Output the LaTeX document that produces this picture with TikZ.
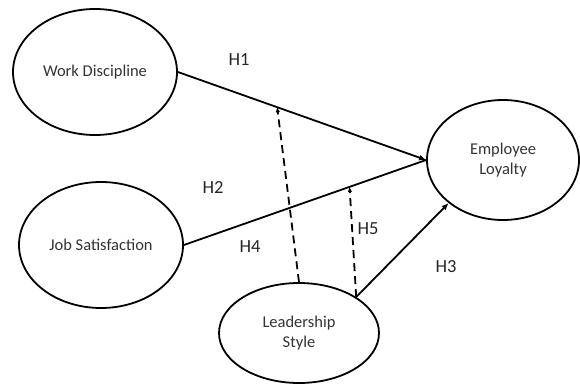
\documentclass[tikz,border=0pt]{standalone}
\usepackage{fontspec}
\setmainfont{Carlito}
\usetikzlibrary{arrows.meta}
\usetikzlibrary{shapes.geometric}
\usetikzlibrary{calc}
\tikzset{
	var/.style={ellipse,draw,line width=1.8pt,text=black!80,align=center,
		font=\fontsize{16.5}{19.5}\selectfont,inner sep=0pt},
	hyp/.style={font=\fontsize{18.5}{20}\selectfont,text=black!85},
	path/.style={line width=1.8pt,-{Latex[length=7pt,width=6pt]}},
	moder/.style={line width=1.8pt,dash pattern=on 8pt off 5pt,-{Latex[length=5pt,width=4.5pt]}}
}
\begin{document}
\begin{tikzpicture}[x=1pt,y=-1pt]
	\useasboundingbox (0,0) rectangle (580,385);

	\node[var,minimum width=164pt,minimum height=126pt] (wd) at (95,72) {Work Discipline};
	\node[var,minimum width=164pt,minimum height=126pt] (js) at (101,245) {Job Satisfaction};
	\node[var,minimum width=152pt,minimum height=120pt] (el) at (503,160) {Employee\\Loyalty};
	\node[var,minimum width=160pt,minimum height=100pt] (ls) at (299,333) {Leadership\\Style};

	\draw[path] (wd.east) -- (el.west) coordinate[pos=0.4] (m1);
	\draw[line width=1.8pt] (js.east) -- (el.west) coordinate[pos=0.684] (m2);
	\draw[path] (ls.north east) -- (el.south west);

	\draw[moder] (ls.north) -- (m1);
	\draw[moder] (ls.north east) -- (m2);

	\node[hyp] (h1) at (239,60) {H1};
	\node[hyp] (h2) at (213,187) {H2};
	\node[hyp] (h4) at (250,247) {H4};
	\node[hyp] (h5) at (368,229) {H5};
	\node[hyp] (h3) at (446,267) {H3};
\end{tikzpicture}
\end{document}
